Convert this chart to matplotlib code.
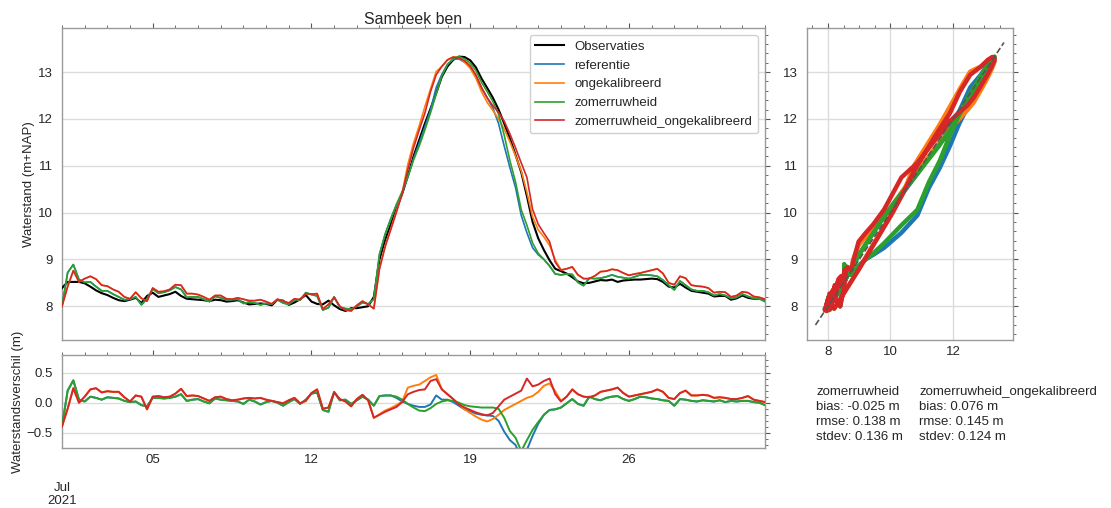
import numpy as np
import matplotlib
matplotlib.use("Agg")
import matplotlib.pyplot as plt
import matplotlib.dates as mdates
from matplotlib.ticker import MultipleLocator

plt.rcParams['font.family'] = ['Liberation Sans', 'DejaVu Sans']
plt.rcParams['font.size'] = 9.5

# ---------------------------------------------------------------- data
# Water levels at Sambeek benedenstrooms, 6-hourly from 1 July 2021 (m+NAP)
start = np.datetime64('2021-07-01T00:00')
step = np.timedelta64(6, 'h')

observaties = [
    8.39, 8.52, 8.52, 8.52,
    8.49, 8.42, 8.34, 8.28,
    8.24, 8.18, 8.13, 8.11,
    8.14, 8.18, 8.07, 8.22,
    8.29, 8.20, 8.23, 8.26,
    8.31, 8.22, 8.16, 8.15,
    8.14, 8.13, 8.11, 8.14,
    8.13, 8.10, 8.11, 8.13,
    8.08, 8.04, 8.05, 8.06,
    8.05, 8.02, 8.14, 8.12,
    8.03, 8.08, 8.15, 8.24,
    8.10, 8.05, 8.04, 8.12,
    8.02, 7.94, 7.90, 7.96,
    7.96, 7.98, 8.00, 8.20,
    9.00, 9.42, 9.75, 10.08,
    10.40, 10.78, 11.20, 11.55,
    11.90, 12.22, 12.55, 12.90,
    13.12, 13.26, 13.33, 13.32,
    13.25, 13.10, 12.86, 12.66,
    12.45, 12.20, 11.90, 11.58,
    11.23, 10.86, 10.35, 9.80,
    9.45, 9.20, 8.98, 8.80,
    8.75, 8.70, 8.62, 8.53,
    8.49, 8.50, 8.53, 8.56,
    8.55, 8.57, 8.52, 8.55,
    8.56, 8.57, 8.57, 8.58,
    8.59, 8.58, 8.52, 8.42,
    8.40, 8.48, 8.40, 8.33,
    8.31, 8.29, 8.27, 8.21,
    8.22, 8.22, 8.14, 8.17,
    8.23, 8.18, 8.16, 8.16,
    8.14,
]

# Model minus observation (m), same time steps
verschil_referentie = [
    -0.39, 0.20, 0.37, 0.05,
    0.02, 0.10, 0.08, 0.05,
    0.09, 0.08, 0.07, 0.03,
    0.01, 0.02, -0.04, -0.06,
    0.08, 0.08, 0.07, 0.08,
    0.10, 0.14, 0.03, 0.05,
    0.06, 0.02, -0.01, 0.07,
    0.05, 0.04, 0.03, 0.02,
    -0.02, 0.05, 0.02, -0.03,
    0.01, 0.03, 0.00, -0.05,
    0.01, 0.06, -0.02, 0.05,
    0.15, 0.17, -0.12, -0.15,
    0.18, 0.04, 0.05, -0.02,
    0.04, 0.10, 0.05, -0.05,
    0.11, 0.12, 0.12, 0.08,
    0.02, -0.02, -0.05, -0.07,
    -0.07, -0.03, 0.12, 0.05,
    0.05, 0.01, -0.05, -0.11,
    -0.14, -0.18, -0.20, -0.21,
    -0.22, -0.30, -0.48, -0.62,
    -0.70, -0.92, -0.78, -0.55,
    -0.35, -0.20, -0.12, -0.11,
    -0.08, -0.01, 0.06, -0.02,
    -0.05, 0.10, 0.06, 0.04,
    0.08, 0.10, 0.11, 0.06,
    0.03, 0.06, 0.10, 0.09,
    0.07, 0.06, 0.04, 0.03,
    -0.05, 0.06, 0.05, 0.03,
    0.02, 0.04, 0.03, 0.02,
    0.04, 0.01, 0.03, 0.02,
    0.03, 0.03, 0.01, 0.00,
    -0.04,
]

verschil_ongekalibreerd = [
    -0.39, -0.10, 0.24, 0.00,
    0.10, 0.22, 0.24, 0.17,
    0.19, 0.18, 0.18, 0.09,
    0.02, 0.12, 0.10, -0.11,
    0.10, 0.11, 0.09, 0.10,
    0.15, 0.23, 0.11, 0.12,
    0.11, 0.07, 0.03, 0.09,
    0.10, 0.06, 0.04, 0.05,
    0.07, 0.08, 0.07, 0.08,
    0.05, 0.03, 0.01, -0.01,
    0.04, 0.08, -0.01, 0.03,
    0.16, 0.22, -0.10, -0.08,
    0.17, 0.06, 0.02, -0.06,
    0.06, 0.13, 0.04, -0.25,
    -0.19, -0.13, -0.09, -0.04,
    0.02, 0.25, 0.28, 0.30,
    0.36, 0.42, 0.46, 0.22,
    0.14, 0.06, -0.02, -0.11,
    -0.17, -0.23, -0.28, -0.31,
    -0.27, -0.20, -0.12, -0.07,
    -0.02, 0.03, 0.08, 0.11,
    0.18, 0.28, 0.32, 0.19,
    0.03, 0.10, 0.22, 0.14,
    0.10, 0.09, 0.12, 0.18,
    0.20, 0.22, 0.25, 0.16,
    0.10, 0.12, 0.14, 0.16,
    0.18, 0.22, 0.18, 0.08,
    0.06, 0.16, 0.20, 0.12,
    0.12, 0.13, 0.12, 0.08,
    0.09, 0.08, 0.06, 0.06,
    0.08, 0.11, 0.05, 0.03,
    0.01,
]

verschil_zomerruwheid = [
    -0.39, 0.20, 0.37, 0.05,
    0.02, 0.10, 0.08, 0.05,
    0.09, 0.08, 0.07, 0.03,
    0.01, 0.02, -0.04, -0.06,
    0.08, 0.08, 0.07, 0.08,
    0.10, 0.14, 0.03, 0.05,
    0.06, 0.02, -0.01, 0.07,
    0.05, 0.04, 0.03, 0.02,
    -0.02, 0.05, 0.02, -0.03,
    0.01, 0.03, 0.00, -0.05,
    0.01, 0.06, -0.02, 0.05,
    0.15, 0.17, -0.12, -0.15,
    0.18, 0.04, 0.05, -0.02,
    0.04, 0.10, 0.05, -0.05,
    0.11, 0.12, 0.12, 0.10,
    0.05, -0.02, -0.08, -0.13,
    -0.14, -0.09, -0.02, 0.02,
    0.04, 0.03, 0.00, -0.04,
    -0.06, -0.07, -0.08, -0.08,
    -0.08, -0.10, -0.25, -0.47,
    -0.58, -0.80, -0.62, -0.45,
    -0.32, -0.20, -0.12, -0.11,
    -0.08, -0.01, 0.06, -0.02,
    -0.05, 0.10, 0.06, 0.04,
    0.08, 0.10, 0.11, 0.06,
    0.03, 0.06, 0.10, 0.09,
    0.07, 0.06, 0.04, 0.03,
    -0.05, 0.06, 0.05, 0.03,
    0.02, 0.04, 0.03, 0.02,
    0.04, 0.01, 0.03, 0.02,
    0.03, 0.03, 0.01, 0.00,
    -0.04,
]

verschil_zomerruwheid_ongekalibreerd = [
    -0.39, -0.10, 0.24, 0.00,
    0.10, 0.22, 0.24, 0.17,
    0.19, 0.18, 0.18, 0.09,
    0.02, 0.12, 0.10, -0.11,
    0.10, 0.11, 0.09, 0.10,
    0.15, 0.23, 0.11, 0.12,
    0.11, 0.07, 0.03, 0.09,
    0.10, 0.06, 0.04, 0.05,
    0.07, 0.08, 0.07, 0.08,
    0.05, 0.03, 0.01, -0.01,
    0.04, 0.08, -0.01, 0.03,
    0.16, 0.22, -0.10, -0.08,
    0.17, 0.06, 0.02, -0.06,
    0.06, 0.13, 0.04, -0.25,
    -0.20, -0.15, -0.11, -0.07,
    0.01, 0.14, 0.18, 0.21,
    0.22, 0.36, 0.39, 0.22,
    0.14, 0.06, -0.03, -0.08,
    -0.12, -0.16, -0.19, -0.21,
    -0.17, -0.06, 0.05, 0.10,
    0.15, 0.20, 0.40, 0.27,
    0.30, 0.36, 0.40, 0.14,
    0.02, 0.10, 0.22, 0.14,
    0.10, 0.09, 0.12, 0.18,
    0.20, 0.22, 0.25, 0.16,
    0.10, 0.12, 0.14, 0.16,
    0.18, 0.22, 0.18, 0.08,
    0.06, 0.16, 0.20, 0.12,
    0.12, 0.13, 0.12, 0.08,
    0.09, 0.08, 0.06, 0.06,
    0.08, 0.11, 0.05, 0.03,
    0.01,
]

model_namen = ['referentie', 'ongekalibreerd', 'zomerruwheid',
               'zomerruwheid_ongekalibreerd']
model_kleuren = ['#1f77b4', '#ff7f0e', '#2ca02c', '#d62728']
model_verschillen = [verschil_referentie, verschil_ongekalibreerd,
                     verschil_zomerruwheid, verschil_zomerruwheid_ongekalibreerd]

statistiek_namen = ['zomerruwheid', 'zomerruwheid_ongekalibreerd']
statistiek_bias = [-0.025, 0.076]
statistiek_rmse = [0.138, 0.145]
statistiek_stdev = [0.136, 0.124]

# ---------------------------------------------------------------- derived
obs = np.array(observaties)
tijd = start + np.arange(len(obs)) * step
verschillen = [np.array(v) for v in model_verschillen]
modellen = [obs + v for v in verschillen]

# ---------------------------------------------------------------- figure
tekst = '#262626'
spine_kleur = '#9a9a9a'
grid_kleur = '#dcdcdc'

fig = plt.figure(figsize=(11.11, 5.08), dpi=100)
ax = fig.add_axes([0.0558, 0.3307, 0.6328, 0.6142])
axd = fig.add_axes([0.0558, 0.1181, 0.6328, 0.1831], sharex=ax)
axs = fig.add_axes([0.7264, 0.3307, 0.1854, 0.6142])


def opmaak(a):
    for s in a.spines.values():
        s.set_color(spine_kleur)
        s.set_linewidth(1.0)
    a.tick_params(which='both', left=False, bottom=False, top=True, right=True,
                  direction='out', color='#555555', labelcolor=tekst,
                  labelsize=9.5)
    a.tick_params(which='major', length=3.5, width=0.8)
    a.tick_params(which='minor', length=2.2, width=0.6)
    a.tick_params(axis='y', which='major', pad=3)
    a.tick_params(axis='x', which='major', pad=0.5)
    a.set_axisbelow(True)


for a in (ax, axd, axs):
    opmaak(a)

# time series panel
ax.plot(tijd, obs, color='black', lw=1.5, label='Observaties', zorder=3)
for naam, kleur, reeks in zip(model_namen, model_kleuren, modellen):
    ax.plot(tijd, reeks, color=kleur, lw=1.2, label=naam, zorder=3)
ax.set_ylim(7.28, 13.94)
ax.yaxis.set_major_locator(MultipleLocator(1))
ax.yaxis.set_minor_locator(MultipleLocator(0.2))
ax.grid(axis='y', which='major', color=grid_kleur, lw=1.0)
ax.set_ylabel('Waterstand (m+NAP)', color=tekst)
ax.yaxis.set_label_coords(-0.038, 0.5)
ax.set_title('Sambeek ben', fontsize=11.4, color=tekst, pad=3)
ax.tick_params(labelbottom=False)
leg = ax.legend(loc='upper right', fontsize=9.5, frameon=True, fancybox=True,
                framealpha=1.0, edgecolor='#d0d0d0', borderaxespad=0.55,
                handlelength=2.2)
for t in leg.get_texts():
    t.set_color(tekst)

ax.set_xlim(tijd[0], start + np.timedelta64(31, 'D'))
ax.xaxis.set_major_locator(mdates.DayLocator(bymonthday=[5, 12, 19, 26]))
ax.xaxis.set_minor_locator(mdates.DayLocator())
ax.xaxis.set_major_formatter(mdates.DateFormatter('%d'))

# difference panel
for naam, kleur, v in zip(model_namen, model_kleuren, verschillen):
    axd.plot(tijd, v, color=kleur, lw=1.4, zorder=3)
axd.set_ylim(-0.75, 0.79)
axd.yaxis.set_major_locator(MultipleLocator(0.5))
axd.yaxis.set_minor_locator(MultipleLocator(0.1))
axd.grid(axis='y', which='major', color=grid_kleur, lw=1.0)
axd.set_ylabel('Waterstandsverschil (m)', color=tekst)
axd.yaxis.set_label_coords(-0.054, 0.5)
axd.annotate('Jul\n2021', xy=(tijd[0], 0), xycoords=('data', 'axes fraction'),
             xytext=(0, -24.5), textcoords='offset points', ha='center',
             va='top', color=tekst, fontsize=9.5, linespacing=1.15,
             annotation_clip=False)

# observed vs modelled panel
for naam, kleur, reeks in zip(model_namen, model_kleuren, modellen):
    axs.plot(obs, reeks, color=kleur, lw=3.2, solid_capstyle='round',
             solid_joinstyle='round', zorder=3)
laag = min(obs.min(), min(m.min() for m in modellen)) - 0.3
hoog = max(obs.max(), max(m.max() for m in modellen)) + 0.3
axs.plot([laag, hoog], [laag, hoog], ls='--', color='#555555', lw=1.2, zorder=4)
axs.set_xlim(7.33, 13.92)
axs.set_ylim(7.28, 13.94)
axs.xaxis.set_major_locator(MultipleLocator(2))
axs.xaxis.set_minor_locator(MultipleLocator(0.5))
axs.yaxis.set_major_locator(MultipleLocator(1))
axs.yaxis.set_minor_locator(MultipleLocator(0.2))
axs.grid(which='major', color=grid_kleur, lw=1.0)

# statistics below the scatter panel
for i, (naam, b, r, s) in enumerate(zip(statistiek_namen, statistiek_bias,
                                        statistiek_rmse, statistiek_stdev)):
    regels = f'{naam}\nbias: {b:.3f} m\nrmse: {r:.3f} m\nstdev: {s:.3f} m'
    fig.text([0.7345, 0.8275][i], 1 - 386 / 508, regels, ha='left', va='top',
             multialignment='left', color=tekst, fontsize=9.5,
             linespacing=1.32)

fig.savefig('out.png', dpi=100)
